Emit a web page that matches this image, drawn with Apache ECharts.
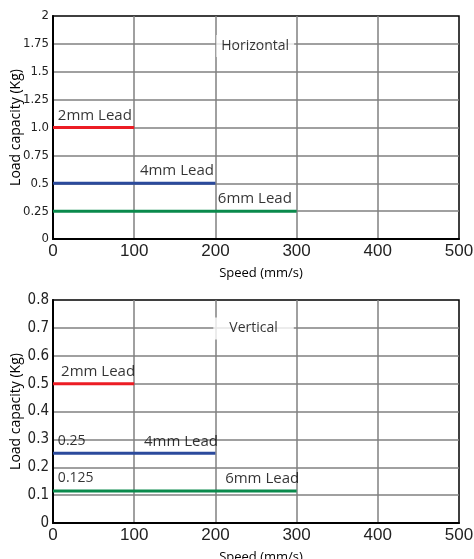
<!DOCTYPE html>
<html><head><meta charset="utf-8">
<script src="https://cdn.jsdelivr.net/npm/echarts@6/dist/echarts.min.js"></script>
<style>html,body{margin:0;padding:0;background:#fff}#c{width:474px;height:559px}</style>
</head><body><div id="c"></div>
<script>
// ---- data ----
const speedTicks = [0, 100, 200, 300, 400, 500];
const hLoadTicks = ['0', '0.25', '0.5', '0.75', '1.0', '1.25', '1.5', '1.75', '2'];
const vLoadTicks = ['0', '0.1', '0.2', '0.3', '0.4', '0.5', '0.6', '0.7', '0.8'];
const leads = ['2mm Lead', '4mm Lead', '6mm Lead'];
const leadColors = ['#ec1c24', '#2b4a9c', '#0a8a4c'];
const maxSpeed = [100, 200, 300];
const hLoad = [1.0, 0.5, 0.25];
const vLoad = [0.5, 0.25, 0.115];
// label anchors (data units)
const hLabelX = [6, 107, 203];
const hLabelY = [1.108, 0.61, 0.359];
const vLabelX = [10, 112, 212];
const vLabelY = [0.542, 0.291, 0.158];
const vValueText = ['0.25', '0.125'];
const vValueX = [6, 6];
const vValueY = [0.294, 0.161];
const titles = ['Horizontal', 'Vertical'];
const titleX = [249, 247];
const titleY = [1.731, 0.698];

const chart = echarts.init(document.getElementById('c'));
const tickFont = {fontFamily: 'Liberation Sans', fontSize: 17, color: '#222'};
const txtFont = 'Open Sans';

function xAxis(gi) {
  return {
    gridIndex: gi, type: 'value', min: 0, max: 500, interval: 100,
    axisLine: {show: true, lineStyle: {color: '#000', width: 2}},
    axisTick: {show: false},
    axisLabel: {margin: 4, ...tickFont, formatter: v => String(speedTicks[Math.round(v / 100)])},
    splitLine: {show: true, showMinLine: false, showMaxLine: false, lineStyle: {color: '#808080', width: 1.5}},
    name: 'Speed (mm/s)', nameLocation: 'middle', nameGap: 28, nameMoveOverlap: false,
    nameTextStyle: {fontFamily: txtFont, fontSize: 13, color: '#000', padding: [0, 0, 0, 10]}
  };
}
function yAxis(gi, max, interval, ticks, fs) {
  return {
    gridIndex: gi, type: 'value', min: 0, max: max, interval: interval,
    axisLine: {show: true, lineStyle: {color: '#000', width: 2}},
    axisTick: {show: false},
    axisLabel: {margin: 4, fontFamily: 'DejaVu Sans Condensed', fontSize: fs, color: '#222',
      formatter: v => ticks[Math.round(v / interval)]},
    splitLine: {show: true, showMinLine: false, showMaxLine: false, lineStyle: {color: '#808080', width: 1.5}},
    name: 'Load capacity (Kg)', nameLocation: 'middle', nameGap: 30, nameRotate: 90, nameMoveOverlap: false,
    nameTextStyle: {fontFamily: txtFont, fontSize: 14, color: '#000'}
  };
}

const series = [];
leads.forEach((l, i) => {
  series.push({type: 'line', xAxisIndex: 0, yAxisIndex: 0, symbol: 'none', silent: true,
    data: [[0, hLoad[i]], [maxSpeed[i], hLoad[i]]], lineStyle: {color: leadColors[i], width: 3}, z: 5});
  series.push({type: 'line', xAxisIndex: 1, yAxisIndex: 1, symbol: 'none', silent: true,
    data: [[0, vLoad[i]], [maxSpeed[i], vLoad[i]]], lineStyle: {color: leadColors[i], width: 3}, z: 5});
});

function textItems(texts, xs, ys, extra) {
  return texts.map((t, i) => ({value: [xs[i], ys[i]], name: t, label: extra || {}}));
}
const baseLabel = {show: true, position: 'right', distance: 0, formatter: p => p.name,
  fontFamily: txtFont, fontSize: 15, color: '#000'};
series.push({type: 'scatter', xAxisIndex: 0, yAxisIndex: 0, symbolSize: 0, silent: true, z: 6,
  label: baseLabel,
  data: textItems(leads, hLabelX, hLabelY)
    .concat([{value: [titleX[0], titleY[0]], name: titles[0],
      label: {position: 'inside', fontSize: 14, backgroundColor: '#fff', padding: [4, 5]}}])});
series.push({type: 'scatter', xAxisIndex: 1, yAxisIndex: 1, symbolSize: 0, silent: true, z: 6,
  label: baseLabel,
  data: textItems(leads, vLabelX, vLabelY)
    .concat(textItems(vValueText, vValueX, vValueY, {fontSize: 14}))
    .concat([{value: [titleX[1], titleY[1]], name: titles[1],
      label: {position: 'inside', fontSize: 14, backgroundColor: '#fff', padding: [4, 16]}}])});

const gridBase = {left: 53, width: 406, height: 223, show: true, borderColor: '#000', borderWidth: 1.5,
  backgroundColor: 'transparent', containLabel: false, outerBoundsMode: 'none'};
chart.setOption({
  animation: false,
  grid: [Object.assign({top: 16}, gridBase), Object.assign({top: 300}, gridBase)],
  xAxis: [xAxis(0), xAxis(1)],
  yAxis: [yAxis(0, 2, 0.25, hLoadTicks, 13), yAxis(1, 0.8, 0.1, vLoadTicks, 15)],
  series: series
});
</script></body></html>
